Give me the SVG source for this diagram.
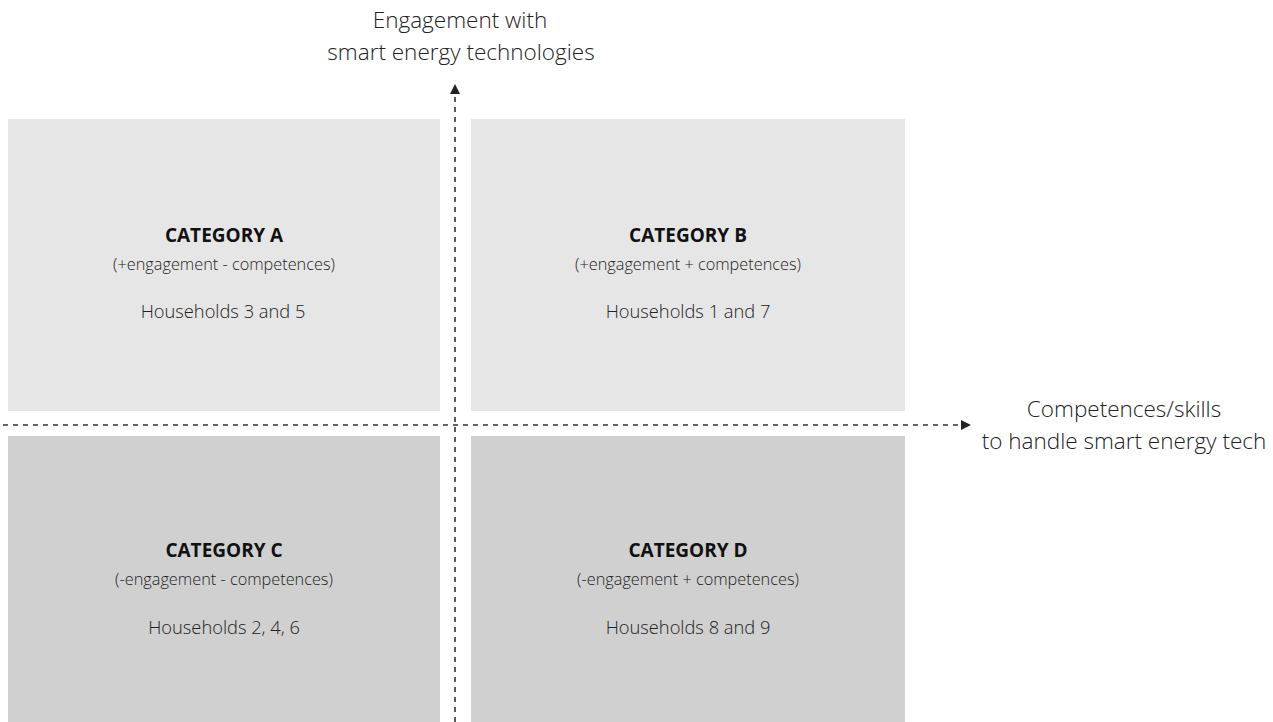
<svg xmlns="http://www.w3.org/2000/svg" width="1273" height="722" viewBox="0 0 1273 722">
<style>
.top{fill:#e6e6e6}
.bot{fill:#d0d0d0}
text{font-family:"Open Sans","Liberation Sans",sans-serif;fill:#222;text-anchor:middle}
.lbl{font-size:22.5px;font-weight:300}
.ttl{font-size:19px;font-weight:700;fill:#111}
.sub{font-size:16.3px;font-weight:300}
.hh{font-size:18.3px;font-weight:300}
.ax{stroke:#333;stroke-width:1.6;stroke-dasharray:5 5;fill:none}
</style>
<defs>
<marker id="ah" markerWidth="10" markerHeight="10" refX="9" refY="5" orient="auto" markerUnits="userSpaceOnUse">
<path d="M0,0 L10,5 L0,10 Z" fill="#222"/>
</marker>
</defs>
<rect width="1273" height="722" fill="#fff"/>
<g id="catA"><rect class="top" x="8" y="119" width="432" height="292"/>
<text class="ttl" x="224" y="242">CATEGORY A</text>
<text class="sub" x="224" y="270">(+engagement - competences)</text>
<text class="hh" x="223" y="318">Households 3 and 5</text></g>
<g id="catB"><rect class="top" x="471" y="119" width="434" height="292"/>
<text class="ttl" x="688" y="242">CATEGORY B</text>
<text class="sub" x="688" y="270">(+engagement + competences)</text>
<text class="hh" x="688" y="318">Households 1 and 7</text></g>
<g id="catC"><rect class="bot" x="8" y="436" width="432" height="286"/>
<text class="ttl" x="224" y="557">CATEGORY C</text>
<text class="sub" x="224" y="585">(-engagement - competences)</text>
<text class="hh" x="224" y="634">Households 2, 4, 6</text></g>
<g id="catD"><rect class="bot" x="471" y="436" width="434" height="286"/>
<text class="ttl" x="688" y="557">CATEGORY D</text>
<text class="sub" x="688" y="585">(-engagement + competences)</text>
<text class="hh" x="688" y="634">Households 8 and 9</text></g>
<g id="yaxis-label"><text class="lbl" x="460" y="28">Engagement with</text>
<text class="lbl" x="461" y="60">smart energy technologies</text></g>
<g id="xaxis-label"><text class="lbl" x="1124" y="417">Competences/skills</text>
<text class="lbl" x="1124" y="449">to handle smart energy tech</text></g>
<g id="connectors">
<line class="ax" x1="455" y1="722" x2="455" y2="85" marker-end="url(#ah)"/>
<line class="ax" x1="3" y1="425" x2="970" y2="425" marker-end="url(#ah)"/>
</g>
</svg>
